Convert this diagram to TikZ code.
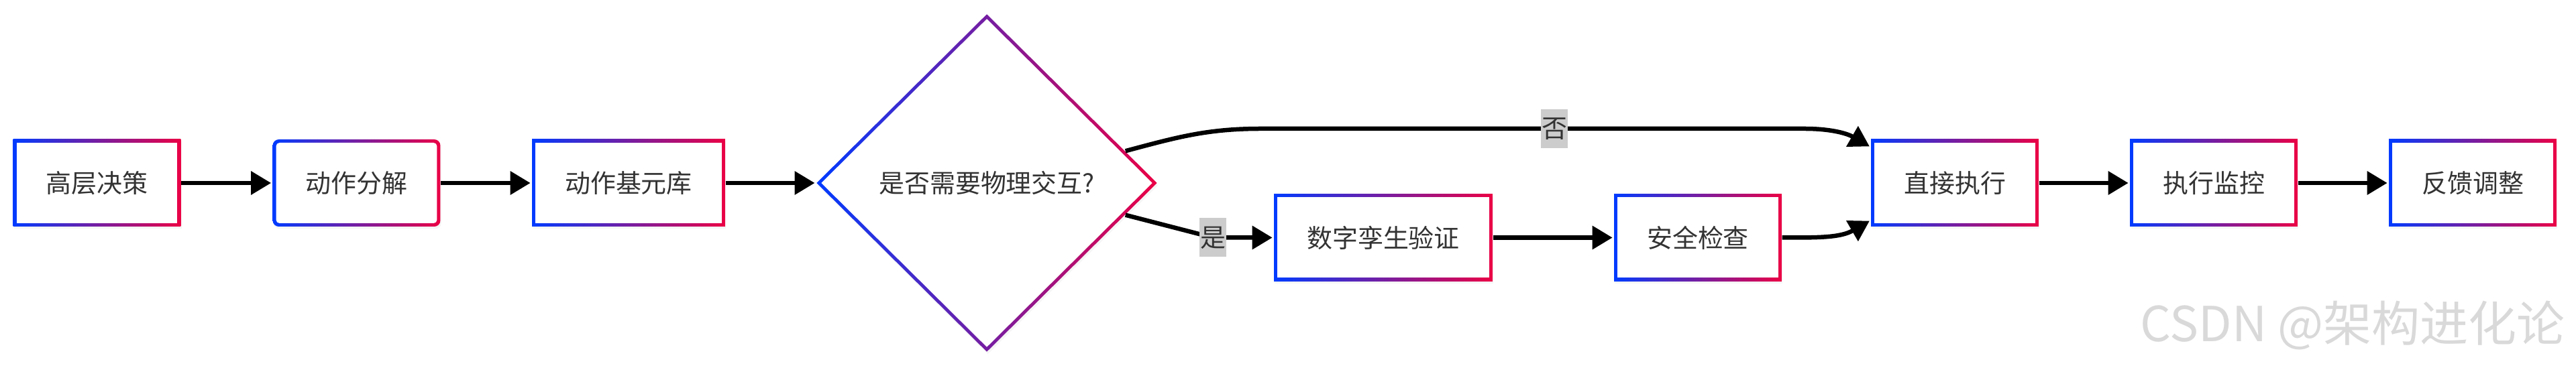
\documentclass[tikz,border=0pt]{standalone}
\usepackage{fontspec}
\setmainfont{Noto Sans CJK SC}
\usepackage{tikz}
\usetikzlibrary{arrows.meta,shapes.geometric,shadows}

\definecolor{gblue}{HTML}{003BFF}
\definecolor{gred}{HTML}{EB0045}
\definecolor{ink}{HTML}{333333}

\begin{document}
\begin{tikzpicture}
	\useasboundingbox (0,0) rectangle (38.4,5.49);
	\begin{scope}[every node/.style = {font = \fontsize{10.8pt}{13pt}\selectfont, text = ink,
			left color = gblue, right color = gred, inner xsep = 0.49cm, minimum height = 1.3cm,
			drop shadow = {opacity = 0.08, shadow xshift = 0.015cm, shadow yshift = -0.035cm}},
		gbox/.style = {rectangle, path picture = {\fill[white]
			([shift={(0.05,0.05)}]path picture bounding box.south west) rectangle
			([shift={(-0.05,-0.05)}]path picture bounding box.north east);}},
		rbox/.style = {rectangle, rounded corners = 0.09cm, path picture = {\fill[white, rounded corners = 0.05cm]
			([shift={(0.05,0.05)}]path picture bounding box.south west) rectangle
			([shift={(-0.05,-0.05)}]path picture bounding box.north east);}},
		gdia/.style = {diamond, inner sep = 0pt, minimum width = 5.08cm, minimum height = 5.04cm,
			path picture = {\fill[white]
			([xshift=0.07cm]path picture bounding box.west) -- ([yshift=-0.07cm]path picture bounding box.north) --
			([xshift=-0.07cm]path picture bounding box.east) -- ([yshift=0.07cm]path picture bounding box.south) -- cycle;}}]
		\node[gbox] (hl) at (1.445,2.76) {高层决策};
		\node[rbox] (ad) at (5.315,2.76) {动作分解};
		\node[gbox] (ap) at (9.37,2.76) {动作基元库};
		\node[gdia] (dec) at (14.71,2.76) {是否需要物理交互?};
		\node[gbox] (dt) at (20.62,1.945) {数字孪生验证};
		\node[gbox] (sc) at (25.31,1.945) {安全检查};
		\node[gbox] (de) at (29.14,2.76) {直接执行};
		\node[gbox] (em) at (33.00,2.76) {执行监控};
		\node[gbox] (fb) at (36.86,2.76) {反馈调整};
	\end{scope}
	\begin{scope}[>={Triangle[length = 0.3cm, width = 0.34cm]},
		flow/.style = {draw = black, line width = 0.065cm, shorten > = 0.5pt},
		every edge/.style = {flow},
		lbl/.style = {fill = black!20, text = ink, inner sep = 0pt, minimum width = 0.4cm,
			minimum height = 0.58cm, font = \fontsize{10.8pt}{13pt}\selectfont}]
		\path [->] (hl) edge (ad);
		\path [->] (ad) edge (ap);
		\path [->] (ap) edge (dec);
		\path [->] (dt) edge (sc);
		\path [->] (de) edge (em);
		\path [->] (em) edge (fb);
		\path [->] (sc) edge[out = 0, in = 210] ([yshift=0.1cm]de.south west);
		\draw [flow, ->] (dec.13) to[out = 15, in = 180] (18.8,3.57)
			-- node[lbl, pos = 0.54] {否} (26.9,3.57) to[out = 0, in = 150] ([yshift=-0.12cm]de.north west);
		\draw [flow, ->] (dec.-13) -- ([xshift=-0.9cm]dt.west) node[lbl] {是} -- (dt.west);
	\end{scope}
	\node[text = gray!30, font = \fontsize{20.5pt}{24pt}\selectfont] (wm) at (35.07,0.64) {CSDN @架构进化论};
\end{tikzpicture}
\end{document}
